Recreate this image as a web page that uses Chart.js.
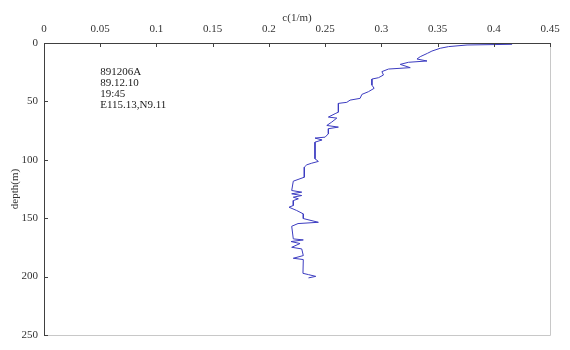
<!DOCTYPE html>
<html lang="en">
<head>
    <meta charset="UTF-8">
    <title>c(1/m) profile</title>
    <style>
        body { margin: 0; background: #fff; }
        #wrap { width: 570px; height: 350px; }
    </style>
    <script src="https://cdn.jsdelivr.net/npm/chart.js"></script>
</head>
<body>
    <div id="wrap"><canvas id="profile"></canvas></div>
    <script>
        // beam attenuation c (1/m) against depth (m)
        const cValues = [0.4163, 0.3762, 0.3598, 0.3524, 0.345, 0.3411, 0.3346, 0.3317, 0.3406, 0.3242,
            0.3168, 0.3257, 0.3064, 0.3005, 0.3019, 0.2975, 0.2916, 0.2916, 0.2936, 0.2885,
            0.2827, 0.2811, 0.2722, 0.2693, 0.2618, 0.2618, 0.2589, 0.2529, 0.2604, 0.2559,
            0.2515, 0.2618, 0.2529, 0.2529, 0.25, 0.241, 0.2473, 0.241, 0.241, 0.244,
            0.2381, 0.2337, 0.2315, 0.2315, 0.2217, 0.2203, 0.2292, 0.2203, 0.2292, 0.2217,
            0.2262, 0.2217, 0.2217, 0.2179, 0.2247, 0.2306, 0.2306, 0.244, 0.2259, 0.2203,
            0.2217, 0.2306, 0.2197, 0.2277, 0.2203, 0.2292, 0.2306, 0.2217, 0.2306, 0.2303,
            0.2352, 0.2417, 0.2352];
        const depths = [1.1, 1.7, 3.1, 4.5, 6.9, 8.8, 11.7, 13.7, 15.4, 16.5,
            18.3, 21.1, 22.3, 24.5, 27.4, 29.7, 30.9, 36, 38.8, 41.7,
            44, 47.4, 48.9, 50.8, 51.7, 59.2, 60.5, 63.4, 64.3, 67.7,
            70.6, 72, 73.4, 77.7, 80.6, 81.4, 83, 84.9, 99.1, 101.4,
            102.9, 104.3, 106.3, 114.9, 118.3, 126.3, 127.7, 129.1, 130.6, 132,
            133.4, 134.9, 139.1, 140.6, 143.4, 146.3, 150.3, 153.5, 154.6, 156.9,
            167.7, 168.6, 170, 171.7, 174.9, 176.3, 182, 184.3, 185.4, 197.2,
            198.3, 199.8, 201.1];
        const infoLines = ['891206A', '89.12.10', '19:45', 'E115.13,N9.11'];
        const infoDepths = [25, 34.5, 44, 53.5];

        const font = { family: 'Liberation Serif', size: 11 };

        // inward ticks, light frame on bottom/right, station info text
        const framePlugin = {
            id: 'frame',
            afterDraw(chart) {
                const c = chart.ctx, a = chart.chartArea;
                const xs = chart.scales.x, ys = chart.scales.y;
                c.save();
                c.lineWidth = 1;
                c.strokeStyle = '#c8c8c8';
                c.beginPath();
                c.moveTo(a.left, a.bottom + 0.5); c.lineTo(a.right + 0.5, a.bottom + 0.5);
                c.lineTo(a.right + 0.5, a.top);
                c.stroke();
                c.strokeStyle = '#404040';
                c.beginPath();
                c.moveTo(a.left + 0.5, a.bottom); c.lineTo(a.left + 0.5, a.top + 0.5);
                c.lineTo(a.right, a.top + 0.5);
                xs.ticks.forEach(t => {
                    const px = Math.round(xs.getPixelForValue(t.value)) + 0.5;
                    c.moveTo(px, a.top); c.lineTo(px, a.top + 4);
                });
                ys.ticks.forEach(t => {
                    const py = Math.round(ys.getPixelForValue(t.value)) + 0.5;
                    c.moveTo(a.left, py); c.lineTo(a.left + 4, py);
                });
                c.stroke();
                c.fillStyle = '#222';
                c.font = '11px "Liberation Serif"';
                c.textBaseline = 'middle';
                infoLines.forEach((s, i) => {
                    c.fillText(s, xs.getPixelForValue(0.05), ys.getPixelForValue(infoDepths[i]));
                });
                c.restore();
            }
        };

        new Chart(document.getElementById('profile'), {
            type: 'scatter',
            data: {
                datasets: [{
                    data: cValues.map((v, i) => ({ x: v, y: depths[i] })),
                    showLine: true,
                    borderColor: '#3c3cc0',
                    borderWidth: 1,
                    pointRadius: 0,
                    tension: 0
                }]
            },
            options: {
                responsive: true,
                maintainAspectRatio: false,
                animation: false,
                layout: { padding: { left: 9, right: 20, top: 12, bottom: 15 } },
                plugins: { legend: { display: false }, tooltip: { enabled: false } },
                scales: {
                    x: {
                        type: 'linear',
                        position: 'top',
                        min: 0, max: 0.45,
                        ticks: {
                            stepSize: 0.05,
                            color: '#333',
                            font: font,
                            padding: 7,
                            maxRotation: 0,
                            callback: v => String(+v.toFixed(2))
                        },
                        grid: { display: false, drawTicks: false },
                        border: { display: false },
                        title: { display: true, text: 'c(1/m)', color: '#333', font: font, padding: 0 },
                        afterFit: s => { s.height = 31; }
                    },
                    y: {
                        type: 'linear',
                        reverse: true,
                        min: 0, max: 250,
                        ticks: { stepSize: 50, color: '#333', font: font, padding: 6 },
                        grid: { display: false, drawTicks: false },
                        border: { display: false },
                        title: { display: true, text: 'depth(m)', color: '#333', font: font, padding: 0 },
                        afterFit: s => { s.width = 35; }
                    }
                }
            },
            plugins: [framePlugin]
        });
    </script>
</body>
</html>
